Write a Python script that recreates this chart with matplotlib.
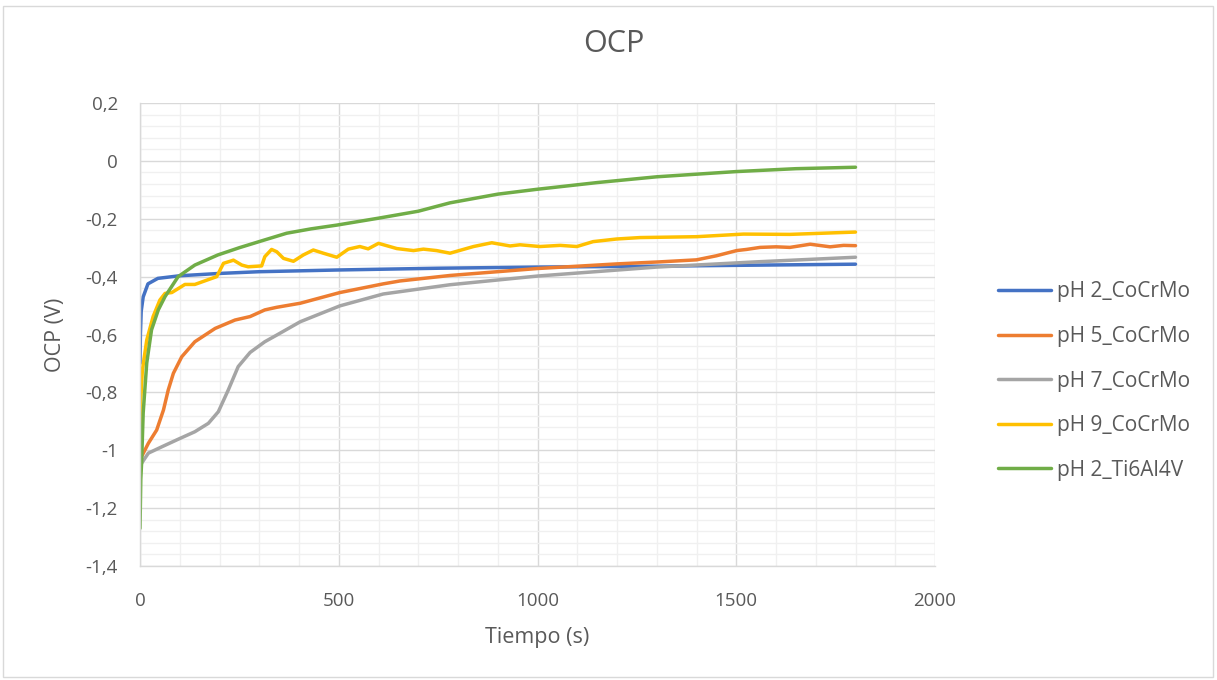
import matplotlib
matplotlib.use("Agg")
import matplotlib.pyplot as plt
from matplotlib.ticker import MultipleLocator, FuncFormatter
from matplotlib.patches import Rectangle

plt.rcParams['font.family'] = ['Open Sans', 'DejaVu Sans']

title = "OCP"
x_label = "Tiempo (s)"
y_label = "OCP (V)"
labels = ["pH 2_CoCrMo", "pH 5_CoCrMo", "pH 7_CoCrMo", "pH 9_CoCrMo", "pH 2_Ti6Al4V"]
colors = ["#4472C4", "#ED7D31", "#A5A5A5", "#FFC000", "#70AD47"]

t_ph2 = [0, 1, 3, 8, 20, 45, 100, 200, 300, 500, 750, 1000, 1300, 1500, 1800]
v_ph2 = [-0.70, -0.60, -0.52, -0.47, -0.425, -0.406, -0.397, -0.389, -0.383, -0.377,
         -0.371, -0.367, -0.364, -0.361, -0.357]

t_ph5 = [0, 4, 21, 42, 59, 71, 84, 105, 138, 189, 239, 277, 314, 344, 403, 503, 612,
         654, 780, 1000, 1200, 1308, 1400, 1450, 1501, 1526, 1560, 1600, 1635, 1686,
         1736, 1770, 1800]
v_ph5 = [-1.04, -1.022, -0.976, -0.93, -0.861, -0.792, -0.734, -0.677, -0.625, -0.579,
         -0.55, -0.538, -0.515, -0.506, -0.492, -0.455, -0.425, -0.415, -0.396, -0.372,
         -0.356, -0.349, -0.342, -0.328, -0.31, -0.306, -0.299, -0.297, -0.299, -0.288,
         -0.297, -0.292, -0.293]

t_ph7 = [0, 4, 21, 55, 96, 138, 172, 197, 222, 247, 277, 314, 344, 403, 503, 612, 780,
         1000, 1300, 1550, 1800]
v_ph7 = [-1.06, -1.045, -1.01, -0.988, -0.962, -0.936, -0.907, -0.867, -0.792, -0.711,
         -0.662, -0.625, -0.602, -0.556, -0.501, -0.46, -0.428, -0.398, -0.367, -0.349,
         -0.333]

t_ph9 = [0, 2, 6, 17, 33, 50, 63, 80, 113, 138, 193, 210, 231, 235, 256, 272, 306, 314,
         331, 344, 361, 386, 411, 436, 461, 495, 524, 553, 574, 600, 646, 688, 713, 746,
         780, 839, 885, 931, 956, 1006, 1057, 1099, 1140, 1199, 1258, 1308, 1400, 1518,
         1635, 1800]
v_ph9 = [-0.95, -0.82, -0.723, -0.619, -0.538, -0.481, -0.458, -0.455, -0.427, -0.427,
         -0.40, -0.354, -0.345, -0.343, -0.36, -0.366, -0.363, -0.331, -0.306, -0.314,
         -0.337, -0.347, -0.325, -0.308, -0.319, -0.333, -0.305, -0.296, -0.304, -0.285,
         -0.303, -0.31, -0.305, -0.31, -0.319, -0.296, -0.283, -0.294, -0.29, -0.296,
         -0.292, -0.296, -0.279, -0.27, -0.265, -0.264, -0.262, -0.253, -0.254, -0.246]

t_ti = [0, 2, 4, 8, 17, 29, 46, 63, 96, 138, 196, 250, 314, 369, 430, 495, 600, 700,
        780, 900, 1000, 1150, 1300, 1500, 1650, 1800]
v_ti = [-1.27, -1.10, -1.044, -0.871, -0.698, -0.584, -0.515, -0.469, -0.40, -0.36,
        -0.325, -0.30, -0.273, -0.25, -0.235, -0.222, -0.198, -0.174, -0.145, -0.115,
        -0.098, -0.075, -0.055, -0.037, -0.027, -0.022]

series = [(t_ph2, v_ph2), (t_ph5, v_ph5), (t_ph7, v_ph7), (t_ph9, v_ph9), (t_ti, v_ti)]

W, H = 1217, 680
fig = plt.figure(figsize=(W / 100, H / 100), dpi=100)
ax = fig.add_axes([140 / W, 1 - 566 / H, 795 / W, 463 / H])

for (t, v), lab, c in zip(series, labels, colors):
    ax.plot(t, v, color=c, lw=2.5, label=lab, solid_joinstyle='round', solid_capstyle='round')

ax.set_xlim(0, 2000)
ax.set_ylim(-1.4, 0.2)
ax.xaxis.set_major_locator(MultipleLocator(500))
ax.xaxis.set_minor_locator(MultipleLocator(100))
ax.yaxis.set_major_locator(MultipleLocator(0.2))
ax.yaxis.set_minor_locator(MultipleLocator(0.04))
ax.grid(which='major', color='#D9D9D9', lw=1.0)
ax.grid(which='minor', color='#F0F0F0', lw=1.0)
ax.set_axisbelow(True)

def fmt(v, pos):
    s = f"{v:.1f}".replace('.', ',')
    if s.endswith(',0'):
        s = s[:-2]
    if s == '-0':
        s = '0'
    return s

ax.yaxis.set_major_formatter(FuncFormatter(fmt))
ax.xaxis.set_major_formatter(FuncFormatter(lambda v, p: f"{int(v)}"))

for s in ['top', 'right']:
    ax.spines[s].set_visible(False)
for s in ['left', 'bottom']:
    ax.spines[s].set_color('#D9D9D9')
    ax.spines[s].set_linewidth(1.0)

ax.tick_params(which='both', length=0, labelsize=13.5, labelcolor='#595959')
ax.tick_params(axis='y', pad=16)
ax.tick_params(axis='x', pad=19)

ax.set_xlabel(x_label, fontsize=15.5, color='#595959')
ax.set_ylabel(y_label, fontsize=15.5, color='#595959')
ax.xaxis.set_label_coords(0.5, (566 - 637) / 463)
ax.xaxis.label.set_va('center')
ax.yaxis.set_label_coords((56 - 140) / 795, 0.5)
ax.yaxis.label.set_va('center')

fig.text(614 / W, 1 - 44 / H, title, fontsize=22, color='#595959', ha='center', va='center')

leg = ax.legend(loc='center left', bbox_to_anchor=(979 / W, 1 - 381 / H),
                bbox_transform=fig.transFigure, frameon=False, fontsize=15,
                handlelength=2.55, labelspacing=1.13, handletextpad=0.3)
for txt in leg.get_texts():
    txt.set_color('#595959')

fig.patches.append(Rectangle((3 / W, 3 / H), 1210 / W, 671 / H, transform=fig.transFigure,
                             fill=False, edgecolor='#D9D9D9', lw=1.0))

fig.savefig("out.png", dpi=100, facecolor='white')
